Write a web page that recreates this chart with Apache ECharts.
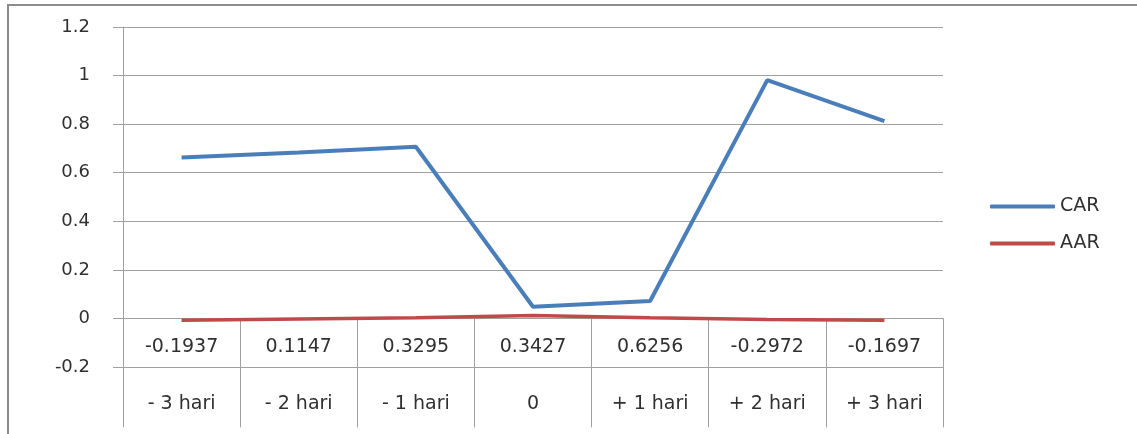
<!DOCTYPE html>
<html>
<head>
<meta charset="utf-8">
<script src="https://cdn.jsdelivr.net/npm/echarts@6/dist/echarts.min.js"></script>
<style>
  html, body { margin: 0; padding: 0; background: #fff; }
  #main { width: 1137px; height: 434px; }
</style>
</head>
<body>
<div id="main"></div>
<script>
// hari di sekitar peristiwa
var days = ['- 3 hari', '- 2 hari', '- 1 hari', '0', '+ 1 hari', '+ 2 hari', '+ 3 hari'];
// baris angka pada tabel sumbu
var tableRow = ['-0.1937', '0.1147', '0.3295', '0.3427', '0.6256', '-0.2972', '-0.1697'];
// nilai
var car = [0.663, 0.683, 0.707, 0.048, 0.072, 0.981, 0.812];
var aar = [-0.007, -0.002, 0.003, 0.012, 0.003, -0.004, -0.007];

var chart = echarts.init(document.getElementById('main'));
var gridColor = '#a0a0a0';
var textColor = '#303030';
var font = 'DejaVu Sans';

var option = {
    backgroundColor: '#fff',
    animation: false,
    graphic: [{
        type: 'rect',
        shape: { x: 8, y: 5, width: 1300, height: 600 },
        style: { fill: 'none', stroke: '#8c8c8c', lineWidth: 2 }
    }],
    legend: {
        orient: 'vertical',
        left: 985,
        top: 192,
        itemWidth: 65,
        itemHeight: 4,
        itemGap: 18,
        icon: 'roundRect',
        textStyle: { fontFamily: font, fontSize: 19, color: textColor, lineHeight: 19 },
        data: ['CAR', 'AAR']
    },
    grid: { left: 123, right: 194, top: 27, bottom: 67, outerBoundsMode: 'none', containLabel: false },
    xAxis: {
        type: 'category',
        data: days,
        boundaryGap: true,
        axisLine: { onZero: true, lineStyle: { color: gridColor, width: 1 } },
        axisTick: { show: true, length: 109, lineStyle: { color: gridColor, width: 1 } },
        axisLabel: {
            interval: 0,
            margin: -41,
            formatter: function (v, i) {
                return '{a|' + tableRow[i] + '}\n{b|' + v + '}';
            },
            rich: {
                a: { fontFamily: font, fontSize: 19, color: textColor, lineHeight: 42 },
                b: { fontFamily: font, fontSize: 19, color: textColor, lineHeight: 72 }
            }
        },
        splitLine: { show: false }
    },
    yAxis: {
        type: 'value',
        min: -0.2,
        max: 1.2,
        interval: 0.2,
        axisLine: { show: true, lineStyle: { color: gridColor, width: 1 } },
        axisTick: { show: true, length: 10, lineStyle: { color: gridColor, width: 1 } },
        axisLabel: { margin: 33, fontFamily: font, fontSize: 18, color: textColor },
        splitLine: { lineStyle: { color: gridColor, width: 1 } }
    },
    series: [
        {
            name: 'CAR',
            type: 'line',
            data: car,
            showSymbol: false,
            symbol: 'none',
            itemStyle: { color: '#4a7ebb' },
            lineStyle: { color: '#4a7ebb', width: 4 }
        },
        {
            name: 'AAR',
            type: 'line',
            data: aar,
            showSymbol: false,
            symbol: 'none',
            itemStyle: { color: '#be4b48' },
            lineStyle: { color: '#be4b48', width: 3.5 }
        }
    ]
};
chart.setOption(option);
</script>
</body>
</html>
